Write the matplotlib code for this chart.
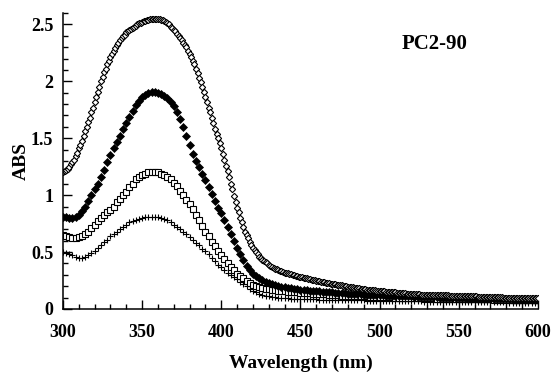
import numpy as np
import matplotlib
matplotlib.use("Agg")
import matplotlib.pyplot as plt
from matplotlib.ticker import MultipleLocator, FuncFormatter

plt.rcParams.update({
    "font.family": ["Liberation Serif", "DejaVu Serif"],
    "font.weight": "bold",
    "axes.linewidth": 1.1,
})

# wavelength grids of the spectrometer (nm)
wl_fine = np.arange(300, 601, 1)
wl = np.arange(300, 601, 2)

# open diamonds, 1 nm step
abs_open_diamond = [
    1.20, 1.21, 1.22, 1.23, 1.25, 1.27, 1.29, 1.31, 1.34, 1.37,
    1.41, 1.44, 1.48, 1.52, 1.56, 1.60, 1.64, 1.68, 1.73, 1.77,
    1.82, 1.86, 1.91, 1.95, 2.00, 2.04, 2.08, 2.11, 2.15, 2.18,
    2.21, 2.24, 2.27, 2.29, 2.32, 2.34, 2.36, 2.38, 2.40, 2.41,
    2.43, 2.44, 2.45, 2.46, 2.47, 2.48, 2.49, 2.50, 2.51, 2.51,
    2.52, 2.53, 2.53, 2.54, 2.54, 2.55, 2.55, 2.55, 2.55, 2.55,
    2.55, 2.55, 2.54, 2.54, 2.53, 2.52, 2.51, 2.50, 2.48, 2.47,
    2.45, 2.44, 2.42, 2.40, 2.38, 2.36, 2.34, 2.32, 2.30, 2.27,
    2.24, 2.21, 2.18, 2.15, 2.11, 2.07, 2.03, 1.99, 1.95, 1.91,
    1.86, 1.82, 1.77, 1.73, 1.68, 1.63, 1.58, 1.54, 1.50, 1.46,
    1.41, 1.36, 1.31, 1.26, 1.21, 1.16, 1.10, 1.05, 0.99, 0.94,
    0.89, 0.85, 0.80, 0.76, 0.72, 0.68, 0.65, 0.62, 0.59, 0.56,
    0.54, 0.52, 0.50, 0.48, 0.46, 0.445, 0.43, 0.42, 0.41, 0.40,
    0.39, 0.38, 0.37, 0.363, 0.355, 0.348, 0.34, 0.335, 0.33, 0.325,
    0.32, 0.316, 0.312, 0.308, 0.304, 0.30, 0.296, 0.292, 0.288, 0.284,
    0.28, 0.277, 0.274, 0.271, 0.268, 0.265, 0.262, 0.259, 0.256, 0.253,
    0.25, 0.247, 0.244, 0.241, 0.238, 0.235, 0.232, 0.229, 0.226, 0.223,
    0.22, 0.218, 0.216, 0.214, 0.212, 0.21, 0.207, 0.204, 0.201, 0.198,
    0.195, 0.193, 0.191, 0.189, 0.187, 0.185, 0.183, 0.181, 0.179, 0.177,
    0.175, 0.173, 0.171, 0.169, 0.167, 0.165, 0.164, 0.163, 0.162, 0.161,
    0.16, 0.158, 0.156, 0.154, 0.152, 0.15, 0.149, 0.148, 0.147, 0.146,
    0.145, 0.144, 0.143, 0.142, 0.141, 0.14, 0.138, 0.136, 0.134, 0.132,
    0.13, 0.13, 0.129, 0.129, 0.128, 0.128, 0.127, 0.127, 0.126, 0.126,
    0.125, 0.125, 0.124, 0.124, 0.123, 0.123, 0.122, 0.122, 0.121, 0.121,
    0.12, 0.12, 0.119, 0.119, 0.118, 0.118, 0.117, 0.117, 0.116, 0.116,
    0.115, 0.115, 0.114, 0.114, 0.113, 0.113, 0.112, 0.112, 0.111, 0.111,
    0.11, 0.11, 0.109, 0.109, 0.108, 0.108, 0.107, 0.107, 0.106, 0.106,
    0.105, 0.105, 0.104, 0.104, 0.103, 0.103, 0.102, 0.102, 0.101, 0.101,
    0.10, 0.10, 0.10, 0.10, 0.10, 0.099, 0.099, 0.099, 0.099, 0.099,
    0.098, 0.098, 0.098, 0.098, 0.097, 0.097, 0.097, 0.096, 0.096, 0.096,
    0.095,
]

# filled diamonds, 2 nm step
abs_filled_diamond = [
    0.81, 0.805, 0.80, 0.80, 0.81, 0.83, 0.86, 0.90, 0.95, 1.00,
    1.05, 1.10, 1.16, 1.22, 1.29, 1.35, 1.41, 1.47, 1.52, 1.58,
    1.63, 1.69, 1.74, 1.79, 1.83, 1.86, 1.88, 1.90, 1.91, 1.91,
    1.90, 1.89, 1.87, 1.85, 1.82, 1.78, 1.73, 1.67, 1.60, 1.52,
    1.44, 1.36, 1.30, 1.25, 1.19, 1.13, 1.07, 1.01, 0.95, 0.89,
    0.84, 0.78, 0.72, 0.66, 0.60, 0.54, 0.48, 0.43, 0.38, 0.34,
    0.31, 0.29, 0.27, 0.255, 0.24, 0.23, 0.22, 0.21, 0.20, 0.195,
    0.19, 0.186, 0.182, 0.178, 0.174, 0.17, 0.167, 0.164, 0.161, 0.158,
    0.156, 0.154, 0.152, 0.150, 0.148, 0.146, 0.144, 0.142, 0.140, 0.138,
    0.136, 0.134, 0.132, 0.130, 0.128, 0.126, 0.124, 0.123, 0.122, 0.121,
    0.120, 0.119, 0.118, 0.117, 0.116, 0.115, 0.114, 0.113, 0.112, 0.111,
    0.110, 0.109, 0.108, 0.107, 0.106, 0.105, 0.104, 0.103, 0.102, 0.101,
    0.100, 0.099, 0.098, 0.097, 0.096, 0.095, 0.094, 0.093, 0.092, 0.091,
    0.090, 0.089, 0.088, 0.088, 0.087, 0.087, 0.086, 0.086, 0.085, 0.085,
    0.084, 0.084, 0.083, 0.083, 0.082, 0.082, 0.081, 0.081, 0.080, 0.080,
    0.080,
]

# open squares, 2 nm step
abs_square = [
    0.65, 0.64, 0.63, 0.62, 0.62, 0.63, 0.64, 0.66, 0.68, 0.71,
    0.74, 0.77, 0.80, 0.83, 0.85, 0.87, 0.90, 0.94, 0.97, 1.00,
    1.03, 1.07, 1.10, 1.14, 1.16, 1.18, 1.19, 1.20, 1.20, 1.20,
    1.20, 1.19, 1.18, 1.16, 1.14, 1.11, 1.08, 1.04, 1.00, 0.96,
    0.92, 0.88, 0.83, 0.78, 0.73, 0.68, 0.64, 0.59, 0.55, 0.51,
    0.47, 0.44, 0.40, 0.37, 0.34, 0.31, 0.29, 0.27, 0.25, 0.23,
    0.21, 0.20, 0.19, 0.185, 0.18, 0.175, 0.17, 0.166, 0.162, 0.158,
    0.155, 0.152, 0.150, 0.148, 0.146, 0.144, 0.142, 0.140, 0.138, 0.136,
    0.134, 0.132, 0.130, 0.128, 0.126, 0.124, 0.122, 0.120, 0.118, 0.117,
    0.116, 0.115, 0.114, 0.113, 0.112, 0.111, 0.110, 0.109, 0.108, 0.107,
    0.106, 0.105, 0.104, 0.103, 0.102, 0.101, 0.100, 0.099, 0.098, 0.097,
    0.096, 0.096, 0.095, 0.095, 0.094, 0.094, 0.093, 0.093, 0.092, 0.092,
    0.091, 0.091, 0.090, 0.090, 0.089, 0.089, 0.088, 0.088, 0.087, 0.087,
    0.086, 0.086, 0.085, 0.085, 0.084, 0.084, 0.083, 0.083, 0.082, 0.082,
    0.081, 0.081, 0.080, 0.080, 0.079, 0.079, 0.078, 0.078, 0.077, 0.077,
    0.076,
]

# plus markers, 2 nm step
abs_plus = [
    0.50, 0.49, 0.48, 0.47, 0.46, 0.45, 0.45, 0.46, 0.47, 0.49,
    0.51, 0.54, 0.56, 0.59, 0.61, 0.64, 0.66, 0.68, 0.70, 0.72,
    0.74, 0.76, 0.77, 0.78, 0.79, 0.80, 0.81, 0.81, 0.81, 0.81,
    0.81, 0.80, 0.79, 0.78, 0.76, 0.74, 0.72, 0.70, 0.68, 0.66,
    0.63, 0.61, 0.58, 0.56, 0.53, 0.51, 0.48, 0.45, 0.42, 0.39,
    0.37, 0.34, 0.32, 0.30, 0.28, 0.26, 0.24, 0.22, 0.20, 0.18,
    0.16, 0.145, 0.135, 0.125, 0.118, 0.112, 0.108, 0.104, 0.101, 0.098,
    0.096, 0.094, 0.092, 0.091, 0.090, 0.089, 0.088, 0.087, 0.086, 0.085,
    0.084, 0.083, 0.082, 0.081, 0.080, 0.080, 0.079, 0.079, 0.078, 0.078,
    0.077, 0.077, 0.076, 0.076, 0.075, 0.075, 0.074, 0.074, 0.073, 0.073,
    0.072, 0.072, 0.071, 0.071, 0.070, 0.070, 0.069, 0.069, 0.068, 0.068,
    0.067, 0.067, 0.066, 0.066, 0.065, 0.065, 0.065, 0.064, 0.064, 0.064,
    0.063, 0.063, 0.063, 0.062, 0.062, 0.062, 0.061, 0.061, 0.061, 0.060,
    0.060, 0.060, 0.060, 0.059, 0.059, 0.059, 0.059, 0.058, 0.058, 0.058,
    0.058, 0.057, 0.057, 0.057, 0.057, 0.056, 0.056, 0.056, 0.056, 0.055,
    0.055,
]

fig = plt.figure(figsize=(5.54, 3.74), dpi=100)
ax = fig.add_axes([0.1137, 0.1738, 0.8574, 0.7914])

ax.plot(wl, abs_plus, ls="none", marker="+", ms=5, mew=0.8, color="black")
ax.plot(wl, abs_square, ls="none", marker="s", ms=4.2, mew=0.8,
        mfc="white", mec="black")
ax.plot(wl, abs_filled_diamond, ls="none", marker="D", ms=3.8, mew=0.5,
        color="black")
ax.plot(wl_fine, abs_open_diamond, ls="none", marker="D", ms=3.2, mew=0.8,
        mfc="white", mec="black")

ax.set_xlim(300, 600)
ax.set_ylim(0, 2.6)

ax.xaxis.set_major_locator(MultipleLocator(50))
ax.xaxis.set_minor_locator(MultipleLocator(10))
ax.yaxis.set_major_locator(MultipleLocator(0.5))
ax.yaxis.set_minor_locator(MultipleLocator(0.1))
ax.yaxis.set_major_formatter(FuncFormatter(lambda v, p: f"{v:g}"))

ax.spines["top"].set_visible(False)
ax.spines["right"].set_visible(False)
ax.tick_params(which="both", direction="in", width=1.0, labelsize=13)
ax.tick_params(which="major", length=6.5)
ax.tick_params(which="minor", length=3.5)
ax.tick_params(axis="x", which="major", pad=11)
ax.tick_params(axis="y", which="major", pad=7)
for lab in ax.get_xticklabels() + ax.get_yticklabels():
    lab.set_fontweight("bold")

ax.set_xlabel("Wavelength (nm)", fontsize=14, fontweight="bold", labelpad=10)
ax.set_ylabel("ABS", fontsize=14, fontweight="bold", labelpad=1)

ax.text(0.783, 0.895, "PC2-90", transform=ax.transAxes, ha="center",
        va="center", fontsize=15, fontweight="bold")

fig.savefig("out.png", dpi=100)
